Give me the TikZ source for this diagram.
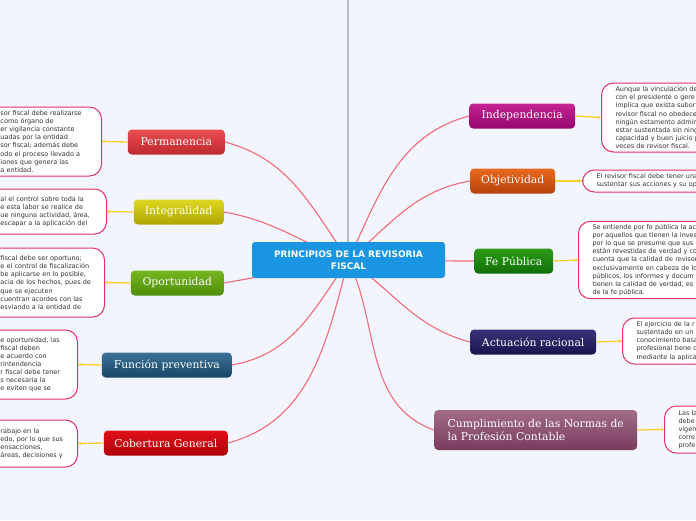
\documentclass[tikz,border=0pt]{standalone}
\usepackage{fontspec}
\newfontfamily\topicfont{DejaVu Serif}
\newfontfamily\notefont{DejaVu Sans}
\usetikzlibrary{arrows.meta,positioning}
\pgfdeclarelayer{paperlayer}
\pgfdeclarelayer{background}
\pgfsetlayers{paperlayer,background,main}

\definecolor{paper}{HTML}{F3F5FE}
\definecolor{rootblue}{HTML}{1A95E1}
\definecolor{trunkgray}{HTML}{BABCC2}
\definecolor{branchred}{HTML}{F26B77}
\definecolor{leafyellow}{HTML}{F7D02A}
\definecolor{notered}{HTML}{E3306B}
\definecolor{notetext}{HTML}{333333}
% topic shades, top / bottom
\definecolor{indepA}{HTML}{C42492}\definecolor{indepB}{HTML}{96066C}
\definecolor{objA}{HTML}{EA681E}\definecolor{objB}{HTML}{B4420A}
\definecolor{feA}{HTML}{2C9C18}\definecolor{feB}{HTML}{126E08}
\definecolor{actA}{HTML}{383478}\definecolor{actB}{HTML}{18144E}
\definecolor{cumpA}{HTML}{A26C88}\definecolor{cumpB}{HTML}{783C5E}
\definecolor{permA}{HTML}{EA4E52}\definecolor{permB}{HTML}{BE282E}
\definecolor{integA}{HTML}{DED822}\definecolor{integB}{HTML}{AEA600}
\definecolor{oportA}{HTML}{76B620}\definecolor{oportB}{HTML}{4E8E0A}
\definecolor{funcA}{HTML}{3C7298}\definecolor{funcB}{HTML}{164668}
\definecolor{cobA}{HTML}{E0101A}\definecolor{cobB}{HTML}{AE0008}

\begin{document}
\begin{tikzpicture}[x=1pt,y=1pt,>=Stealth,
  root/.style={fill=rootblue,rounded corners=3pt,minimum width=193pt,minimum height=36pt,
    text=white,align=center,font=\notefont\bfseries\fontsize{9}{11.5}\selectfont},
  topic/.style={top color=#1A,bottom color=#1B,rounded corners=4pt,minimum height=25pt,
    inner xsep=9pt,text=white,font=\topicfont\fontsize{10.8}{13}\selectfont},
  note/.style={draw=notered,fill=white,line width=1pt,rounded corners=12pt,align=left,
    inner xsep=14pt,inner ysep=3pt,text=notetext,font=\notefont\fontsize{6.5}{8.1}\selectfont},
  branch/.style={draw=branchred,line width=1.1pt},
  leaf/.style={draw=leafyellow,line width=1.3pt,-{Stealth[length=3pt,width=3.5pt]}},
  trunk/.style={draw=trunkgray,line width=1.6pt}]

  \useasboundingbox (0,0) rectangle (696,-520);
  \begin{pgfonlayer}{paperlayer}
    \fill[paper] (0,0) rectangle (696,-520);
  \end{pgfonlayer}
  \clip (0,0) rectangle (696,-520);

  \node[root] (root) at (348.5,-260) {PRINCIPIOS DE LA REVISORIA\\FISCAL};
  \coordinate (top) at (348,0);

  % right side
  \node[topic=indep,minimum width=106pt,anchor=west] (indep) at (469,-116) {Independencia};
  \node[topic=obj,minimum width=85pt,anchor=west] (obj) at (470,-181) {Objetividad};
  \node[topic=fe,minimum width=79pt,anchor=west] (fe) at (474,-261) {Fe Pública};
  \node[topic=act,minimum width=126pt,anchor=west] (act) at (470,-342) {Actuación racional};
  \node[topic=cump,minimum width=203pt,minimum height=40pt,align=left,anchor=west] (cump) at (434,-430) {Cumplimiento de las Normas de\\la Profesión Contable};

  % left side
  \node[topic=perm,minimum width=97pt,anchor=east] (perm) at (225,-142) {Permanencia};
  \node[topic=integ,minimum width=90pt,anchor=east] (integ) at (224,-212) {Integralidad};
  \node[topic=oport,minimum width=93pt,anchor=east] (oport) at (224,-283) {Oportunidad};
  \node[topic=func,minimum width=130pt,anchor=east] (func) at (232,-365) {Función preventiva};
  \node[topic=cob,minimum width=124pt,anchor=east] (cob) at (228,-443) {Cobertura General};

  % notes
  \node[note,anchor=west,text width=120pt,minimum height=69pt] (indepnote) at (601,-117.5)
    {Aunque la vinculación de\\con el presidente o gere\\implica que exista subor\\revisor fiscal no obedece\\ningún estamento admin\\estar sustentada sin ning\\capacidad y buen juicio p\\veces de revisor fiscal.};
  \node[note,anchor=west,text width=120pt,minimum height=22pt] (objnote) at (582,-181)
    {El revisor fiscal debe tener una\\sustentar sus acciones y su op};
  \node[note,anchor=west,text width=120pt,minimum height=76pt] (fenote) at (578,-260)
    {Se entiende por fe pública la ac\\por aquellos que tienen la inves\\por lo que se presume que sus\\están revestidas de verdad y co\\cuenta que la calidad de revisor\\exclusivamente en cabeza de lo\\públicos, los informes y docum\\tienen la calidad de verdad, es\\de la fe pública.};
  \node[note,anchor=west,text width=120pt,minimum height=46pt] (actnote) at (622,-341)
    {El ejercicio de la r\\sustentado en un\\conocimiento basa\\profesional tiene d\\mediante la aplica};
  \node[note,anchor=west,text width=120pt,minimum height=47pt] (cumpnote) at (664,-429.5)
    {Las la\\debe\\vigen\\corre\\profe};

  \node[note,anchor=east,text width=87pt,minimum height=69pt] (permnote) at (102,-141.5)
    {sor fiscal debe realizarse\\como órgano de\\er vigilancia constante\\uadas por la entidad\\sor fiscal; además debe\\odo el proceso llevado a\\iones que genera las\\a entidad.};
  \node[note,anchor=east,text width=92pt,minimum height=45pt] (integnote) at (107,-211.5)
    {al el control sobre toda la\\e esta labor se realice de\\ue ninguna actividad, área,\\escapar a la aplicación del};
  \node[note,anchor=east,text width=90pt,minimum height=69pt] (oportnote) at (105,-282.5)
    {fiscal debe ser oportuno;\\\mbox{e el control de fiscalización}\\\mbox{be aplicarse en lo posible,}\\\mbox{acia de los hechos, pues de}\\que se ejecuten\\cuentran acordes con las\\esviando a la entidad de};
  \node[note,anchor=east,text width=63pt,minimum height=69pt] (funcnote) at (78,-364.5)
    {e oportunidad, las\\fiscal deben\\e acuerdo con\\rintendencia\\\mbox{r fiscal debe tener}\\s necesaria la\\e eviten que se};
  \node[note,anchor=east,text width=63pt,minimum height=47pt] (cobnote) at (78,-443.5)
    {rabajo en la\\\mbox{edo, por lo que sus}\\ensacciones,\\\mbox{áreas, decisiones y}};

  \begin{pgfonlayer}{background}
    \draw[trunk] (top) -- (root.north -| top);
    \draw[branch] (root.center) to[out=65,in=195] (indep.west);
    \draw[branch] (root.center) to[out=40,in=190] (obj.west);
    \draw[branch] (root.center) to[out=0,in=180] (fe.west);
    \draw[branch] (root.center) to[out=-35,in=165] (act.west);
    \draw[branch] (root.center) to[out=-65,in=160] (cump.west);
    \draw[branch] (root.center) to[out=125,in=-15] (perm.east);
    \draw[branch] (root.center) to[out=160,in=-10] (integ.east);
    \draw[branch] (root.center) to[out=190,in=10] (oport.east);
    \draw[branch] (root.center) to[out=235,in=10] (func.east);
    \draw[branch] (root.center) to[out=255,in=15] (cob.east);
  \end{pgfonlayer}

  \draw[leaf] (indep.east) -- (indepnote.west);
  \draw[leaf] (obj.east) -- (objnote.west);
  \draw[leaf] (fe.east) -- (fenote.west);
  \draw[leaf] (act.east) -- (actnote.west);
  \draw[leaf] (cump.east) -- (cumpnote.west);
  \draw[leaf] (perm.west) -- (permnote.east);
  \draw[leaf] (integ.west) -- (integnote.east);
  \draw[leaf] (oport.west) -- (oportnote.east);
  \draw[leaf] (func.west) -- (funcnote.east);
  \draw[leaf] (cob.west) -- (cobnote.east);
\end{tikzpicture}
\end{document}
